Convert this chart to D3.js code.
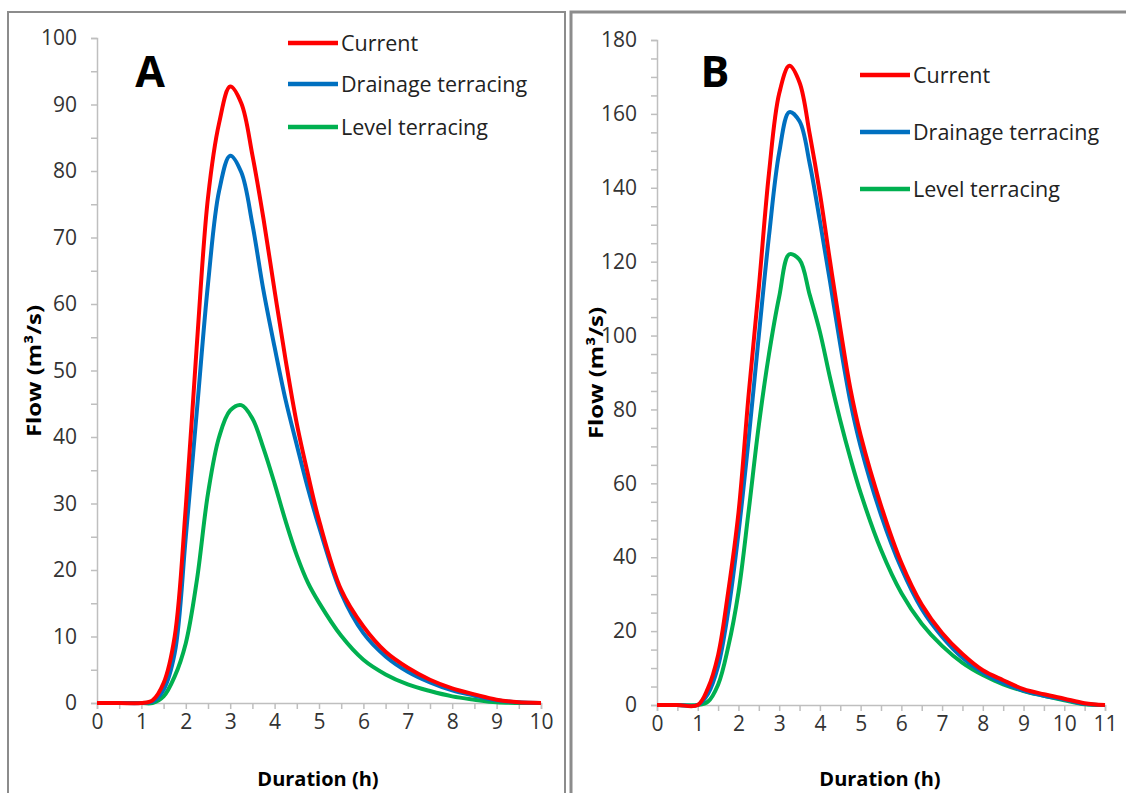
<!DOCTYPE html>
<html>
<head>
<meta charset="utf-8">
<script src="https://cdn.jsdelivr.net/npm/d3@7"></script>
<style>
  body { margin: 0; background: #fff; }
  text { font-family: "Open Sans", "Liberation Sans", sans-serif; }
</style>
</head>
<body>
<div id="chart"></div>
<script>
// hydrographs, values
var seriesNames = ["Current", "Drainage terracing", "Level terracing"];
var seriesColors = ["#ff0000", "#0070c0", "#00b050"];

var timeA = [0, 0.5, 1, 1.25, 1.5, 1.75, 2, 2.25, 2.5, 2.75, 3, 3.25, 3.5, 3.75, 4, 4.25, 4.5, 4.75, 5, 5.5, 6, 6.5, 7, 7.5, 8, 8.5, 9, 9.5, 10];
var currentA  = [0, 0, 0, 0.4, 3, 10, 29.5, 54, 76, 87.2, 92.7, 90.2, 82.4, 72.8, 62, 51.5, 42, 34.4, 27.5, 17, 11.5, 7.7, 5.3, 3.5, 2.2, 1.3, 0.5, 0.1, 0];
var drainageA = [0, 0, 0, 0.2, 2, 7.5, 25, 44, 63, 77, 82.3, 79.8, 72, 62, 53.5, 45.5, 38.8, 32.3, 26.5, 16.5, 10.5, 7, 4.7, 3.1, 1.9, 1.1, 0.4, 0.1, 0];
var levelA    = [0, 0, 0, 0, 1, 4, 9, 18.5, 31.5, 40, 44, 44.8, 42.8, 38.3, 33, 27.3, 22.2, 18.1, 15.1, 10.1, 6.5, 4.3, 2.8, 1.8, 1, 0.5, 0.1, 0, 0];

var timeB = [0, 0.5, 1, 1.25, 1.5, 1.75, 2, 2.25, 2.5, 2.75, 3, 3.25, 3.5, 3.75, 4, 4.25, 4.5, 4.75, 5, 5.5, 6, 6.5, 7, 7.5, 8, 8.5, 9, 9.5, 10, 10.5, 11];
var currentB  = [0, 0, 0, 4.5, 13.5, 30.8, 52, 84, 113, 144, 165.5, 173, 168.5, 154.5, 138.5, 120, 102, 85.5, 73, 54, 38.5, 27.2, 19.5, 13.8, 9.4, 6.7, 4.3, 2.9, 1.7, 0.5, 0];
var drainageB = [0, 0, 0, 3, 10.5, 25.5, 46.5, 72, 100, 127, 149.5, 160.5, 158, 146.5, 131, 114.5, 97.5, 82, 70, 51.5, 37, 26, 18.5, 12.8, 8.8, 6, 3.9, 2.5, 1.5, 0.3, 0];
var levelB    = [0, 0, 0, 0.9, 5.5, 15.8, 30.5, 52.5, 75.7, 95, 110.5, 122, 120.5, 111, 101, 88.5, 77, 66.7, 57.4, 42, 30.3, 22, 16, 11.4, 8.1, 5.6, 3.8, 2.5, 1.3, 0.2, 0];

var yTicksA = [0, 10, 20, 30, 40, 50, 60, 70, 80, 90, 100];
var yTicksB = [0, 20, 40, 60, 80, 100, 120, 140, 160, 180];

var width = 1126;
var height = 793;

var svg = d3.select("#chart")
  .append("svg")
  .attr("width", width)
  .attr("height", height);

// panel frames
svg.append("rect")
  .attr("x", 8).attr("y", 12).attr("width", 557).attr("height", 800)
  .attr("fill", "none").attr("stroke", "#8c8c8c").attr("stroke-width", 2);
svg.append("rect")
  .attr("x", 571).attr("y", 12).attr("width", 600).attr("height", 800)
  .attr("fill", "none").attr("stroke", "#8c8c8c").attr("stroke-width", 3);

function drawPanel(opt) {
  var x = d3.scaleLinear().domain([0, opt.xMax]).range([opt.left, opt.right]);
  var y = d3.scaleLinear().domain([0, opt.yMax]).range([opt.bottom, opt.top]);
  var g = svg.append("g");

  // minor ticks every 5 on y, every half hour on x
  var yMinor = d3.range(0, opt.yMax + 0.001, opt.yMinorStep);
  var xMinor = d3.range(0, opt.xMax + 0.001, 0.5);

  var yAxis = d3.axisLeft(y).tickValues(yMinor).tickSize(6)
    .tickFormat(function(d) { return opt.yTicks.indexOf(d) >= 0 ? d : ""; });
  var gy = g.append("g").attr("transform", "translate(" + opt.left + ",0)").call(yAxis);

  var xAxis = d3.axisBottom(x).tickValues(xMinor).tickSize(6)
    .tickFormat(function(d) { return d % 1 === 0 ? d : ""; });
  var gx = g.append("g").attr("transform", "translate(0," + opt.bottom + ")").call(xAxis);

  [gx, gy].forEach(function(a) {
    a.select(".domain").attr("stroke", "#bfbfbf").attr("stroke-width", 1.5);
    a.selectAll(".tick line").attr("stroke", "#bfbfbf").attr("stroke-width", 1.5);
    a.selectAll(".tick text")
      .attr("fill", "#333")
      .style("font-size", "21px")
      .style("font-family", "'Open Sans', sans-serif");
  });
  gy.selectAll(".tick text").attr("x", -20);
  gx.selectAll(".tick text").attr("y", 11);

  // curves
  var line = d3.line()
    .x(function(d) { return x(d[0]); })
    .y(function(d) { return y(d[1]); })
    .curve(d3.curveCatmullRom.alpha(0.5));

  // level first so current sits on top
  [2, 1, 0].forEach(function(i) {
    var pts = opt.time.map(function(t, k) { return [t, opt.series[i][k]]; });
    g.append("path")
      .datum(pts)
      .attr("d", line)
      .attr("fill", "none")
      .attr("stroke", seriesColors[i])
      .attr("stroke-width", 4)
      .attr("stroke-linejoin", "round");
  });

  // legend
  seriesNames.forEach(function(name, i) {
    var ly = opt.legendY[i];
    g.append("line")
      .attr("x1", opt.legendX).attr("x2", opt.legendX + 50)
      .attr("y1", ly).attr("y2", ly)
      .attr("stroke", seriesColors[i]).attr("stroke-width", 4.5);
    g.append("text")
      .attr("x", opt.legendX + 53).attr("y", ly)
      .attr("dy", "0.35em")
      .attr("fill", "#222")
      .style("font-size", "21.5px")
      .text(name);
  });

  // panel letter
  g.append("text")
    .attr("x", opt.letterX).attr("y", 87)
    .attr("text-anchor", "middle")
    .style("font-size", "43px").style("font-weight", "bold")
    .text(opt.letter);

  // axis titles
  g.append("text")
    .attr("transform", "translate(" + opt.yTitleX + "," + opt.yTitleY + ") rotate(-90)")
    .attr("text-anchor", "middle")
    .attr("textLength", 132)
    .attr("lengthAdjust", "spacingAndGlyphs")
    .style("font-size", "20px").style("font-weight", "bold")
    .text("Flow (m³/s)");
  g.append("text")
    .attr("x", opt.xTitleX).attr("y", 786)
    .attr("text-anchor", "middle")
    .style("font-size", "20px").style("font-weight", "bold")
    .text("Duration (h)");
}

drawPanel({
  letter: "A", letterX: 150,
  left: 97, right: 541, top: 38, bottom: 703,
  xMax: 10, yMax: 100, yMinorStep: 5, yTicks: yTicksA,
  time: timeA, series: [currentA, drainageA, levelA],
  legendX: 288, legendY: [43, 84, 127],
  yTitleX: 41, yTitleY: 371, xTitleX: 318
});

drawPanel({
  letter: "B", letterX: 715,
  left: 657, right: 1105, top: 40, bottom: 705,
  xMax: 11, yMax: 180, yMinorStep: 5, yTicks: yTicksB,
  time: timeB, series: [currentB, drainageB, levelB],
  legendX: 860, legendY: [75, 132, 189],
  yTitleX: 603, yTitleY: 373, xTitleX: 880
});
</script>
</body>
</html>
